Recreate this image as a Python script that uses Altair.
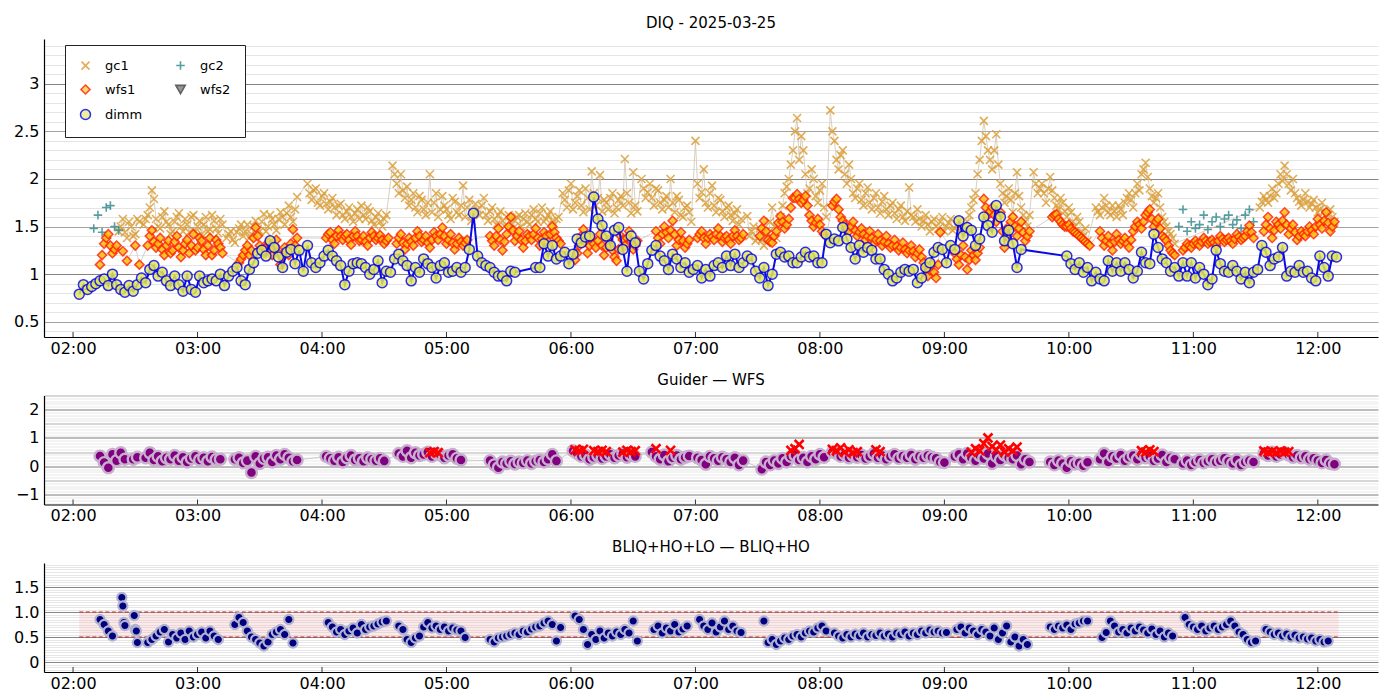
import altair as alt
import pandas as pd

# ---------------- data ----------------
TITLE_TOP = "DIQ - 2025-03-25"
TITLE_MID = "Guider — WFS"
TITLE_BOT = "BLIQ+HO+LO — BLIQ+HO"

T_START, T_END = "01:46", "12:29"
HOURS = ["02:00", "03:00", "04:00", "05:00", "06:00", "07:00",
         "08:00", "09:00", "10:00", "11:00", "12:00"]

SERIES = ["gc1", "gc2", "wfs1", "wfs2", "dimm"]

# each segment: (start time, values sampled every 2 minutes [, step in minutes])
DIMM = [
    ("02:03", [0.79, 0.89, 0.84, 0.87, 0.90, 0.93, 0.95, 0.88, 1.00, 0.89,
               0.84, 0.81, 0.88, 0.82, 0.89, 0.96, 0.91, 1.05, 1.09, 0.98,
               1.02, 0.93, 0.88, 0.98, 0.89, 0.82, 0.98, 0.84, 0.81, 0.98,
               0.91, 0.93, 0.95, 0.93, 1.00, 0.88, 0.98, 1.03, 1.07, 0.93,
               0.89, 1.05, 1.12, 1.22, 1.25, 1.19, 1.35, 1.28, 1.18, 1.07,
               1.23, 1.26, 1.11, 1.25, 1.03, 1.30, 1.12, 1.07, 1.12, 1.19,
               1.25, 1.19, 1.14, 1.09, 0.89, 1.03, 1.11, 1.12, 1.11, 1.07,
               1.00, 1.05, 1.14, 0.91, 1.03, 1.02, 1.16, 1.21, 1.14, 1.09,
               0.93, 1.07, 1.02, 1.16, 1.11, 1.07, 0.96, 1.09, 1.12, 1.02,
               1.03, 1.07, 1.02, 1.07, 1.26, 1.64, 1.19, 1.12, 1.09, 1.07,
               1.02, 0.98, 0.98, 0.93, 1.03, 1.02]),
    ("05:43", [1.07, 1.07, 1.32, 1.19, 1.30, 1.16, 1.19, 1.23, 1.11, 1.21,
               1.37, 1.33, 1.39, 1.40, 1.81, 1.58, 1.51, 1.40, 1.30, 1.46,
               1.49, 1.26, 1.03, 1.40, 1.33, 1.03, 0.95, 1.11, 1.25, 1.30,
               1.19, 1.14, 1.05, 1.21, 1.16, 1.07, 1.12, 1.02, 1.05, 1.09,
               0.96, 1.05, 0.98, 1.09, 1.12, 1.07, 1.19, 1.09, 1.21, 1.07,
               1.12, 1.19, 1.16, 1.03, 0.96, 1.07, 0.88, 1.00, 1.21, 1.23,
               1.18, 1.19, 1.12, 1.12, 1.18, 1.23, 1.18, 1.19, 1.12, 1.12,
               1.42, 1.33, 1.37, 1.35, 1.49, 1.37, 1.28, 1.16, 1.30, 1.23,
               1.28, 1.25, 1.16, 1.16, 1.05, 1.00, 0.93, 0.96, 1.02, 1.05,
               1.03, 1.05, 0.91, 0.96, 1.07, 1.12, 1.23, 1.28, 1.26, 1.12,
               1.30, 1.26, 1.56, 1.40, 1.49, 1.46, 1.30, 1.37, 1.60, 1.51,
               1.44, 1.72, 1.60, 1.35, 1.46, 1.32, 1.07, 1.26]),
    ("09:59", [1.19, 1.11, 1.05, 1.12, 1.02, 1.07, 0.93, 1.02, 0.95, 0.93,
               1.14, 1.03, 1.12, 1.03, 1.12, 1.05, 0.96, 1.03, 1.23, 1.12,
               1.11, 1.42, 1.28, 1.16, 1.12, 1.03, 1.07, 0.98, 1.12, 0.98,
               1.12, 0.96, 1.07, 1.00, 0.89, 0.95, 1.25, 1.11, 1.03, 1.02,
               1.09, 1.03, 0.95, 1.02, 0.91, 1.02, 1.05, 1.30, 1.23, 1.09,
               1.16, 1.18, 1.28, 0.98, 1.03, 1.02, 1.09, 1.02, 1.03, 0.96,
               0.93, 1.19, 1.07, 0.98, 1.19, 1.18]),
]

GC1 = [
    ("02:22", [1.45, 1.58, 1.38, 1.50, 1.42, 1.55]),
    ("02:34", [1.52, 1.62, 1.88, 1.58, 1.48, 1.66, 1.52, 1.45, 1.60, 1.50,
               1.58, 1.44, 1.62, 1.50, 1.42, 1.60, 1.47, 1.56, 1.43, 1.52]),
    ("03:14", [1.38, 1.45, 1.33, 1.48, 1.40, 1.52, 1.42, 1.56, 1.45, 1.63,
               1.50, 1.58, 1.46, 1.65, 1.52, 1.72, 1.55, 1.81]),
    ("03:53", [1.95, 1.78, 1.90, 1.72, 1.85, 1.68, 1.80, 1.62, 1.74, 1.58,
               1.70, 1.55, 1.68, 1.72, 1.58, 1.66, 1.52, 1.64, 1.50, 1.62]),
    ("04:34", [2.14, 1.95, 2.05, 1.80, 1.72, 1.85, 1.65, 1.78, 1.62, 2.05,
               1.75, 1.60, 1.82, 1.68, 1.58, 1.76, 1.62, 1.93, 1.70, 1.56,
               1.74, 1.62, 1.80, 1.56, 1.70, 1.52, 1.66, 1.50, 1.62, 1.48,
               1.60, 1.50, 1.64, 1.52, 1.68, 1.55, 1.70, 1.58, 1.66, 1.52, 1.60]),
    ("05:56", [1.85, 1.70, 1.95, 1.75, 1.88, 1.65, 1.80, 2.08, 1.72, 2.04,
               1.78, 1.68, 1.85, 1.70, 1.82, 2.21, 1.75, 2.07, 1.66]),
    ("06:34", [2.00, 1.80, 1.95, 1.72, 1.88, 1.68, 1.82, 2.00, 1.65, 1.78,
               1.60, 1.72, 1.55]),
    ("07:00", [2.40, 1.80, 2.10, 1.70, 1.93, 1.65, 1.78, 1.60, 1.72, 1.56,
               1.68, 1.58]),
    ("07:25", [1.61, 1.45, 1.35, 1.48, 1.30, 1.42, 1.70, 1.38]),
    ("07:41", [1.60, 1.85, 2.00, 2.30, 2.64, 2.45, 2.05, 1.90, 2.00, 1.75,
               1.95, 1.60]),
    ("08:05", [2.72, 2.40, 2.10, 2.30, 1.95, 2.00, 1.80, 1.95, 1.72, 1.91,
               1.68, 1.85, 1.64, 1.82, 1.62, 1.75, 1.58, 1.72, 1.56, 1.91,
               1.60, 1.68, 1.50, 1.62, 1.45, 1.58, 1.48, 1.60, 1.50, 1.58,
               1.48, 1.56, 1.50]),
    ("09:11", [1.55, 1.70, 1.85, 2.20, 2.61, 2.30, 2.10, 2.47, 1.95, 1.75,
               1.90, 1.65, 2.07, 1.70, 1.55, 1.62]),
    ("09:43", [2.07, 1.85, 1.95, 1.75, 2.02, 1.80, 1.68, 1.75, 1.60, 1.65,
               1.50, 1.55, 1.40, 1.35]),
    ("10:13", [1.70, 1.62, 1.80, 1.65, 1.72, 1.60, 1.68, 1.75, 1.85, 1.70,
               1.95, 2.05, 2.17, 1.90, 1.75, 1.85, 1.60, 1.50, 1.42, 1.32]),
    ("11:32", [1.70, 1.82, 1.75, 1.90, 1.85, 2.05, 2.14, 1.95, 2.00, 1.80,
               1.72, 1.85, 1.70, 1.78, 1.65, 1.75, 1.60, 1.68, 1.55]),
]

# in-between gc1 samples (one minute after the ones above)
GC1_B = [
    ("02:23", [1.50, 1.44, 1.55, 1.40, 1.58]),
    ("02:35", [1.58, 1.70, 1.79, 1.50, 1.60, 1.55, 1.42, 1.55, 1.64, 1.45,
               1.52, 1.60, 1.45, 1.56, 1.52, 1.45, 1.62, 1.48, 1.58]),
    ("03:15", [1.42, 1.36, 1.44, 1.52, 1.45, 1.38, 1.50, 1.47, 1.55, 1.45,
               1.62, 1.52, 1.58, 1.60, 1.64, 1.60, 1.68]),
    ("03:54", [1.85, 1.88, 1.75, 1.82, 1.74, 1.76, 1.70, 1.72, 1.62, 1.66,
               1.60, 1.64, 1.58, 1.62, 1.70, 1.56, 1.60, 1.55, 1.58]),
    ("04:35", [2.05, 1.85, 1.88, 1.92, 1.78, 1.70, 1.82, 1.68, 1.75, 1.65,
               1.85, 1.68, 1.72, 1.62, 1.80, 1.65, 1.72, 1.60, 1.78, 1.65,
               1.68, 1.72, 1.62, 1.66, 1.58, 1.62, 1.56, 1.60, 1.54, 1.56,
               1.62, 1.58, 1.55, 1.62, 1.58, 1.64, 1.55, 1.62, 1.56, 1.58]),
    ("05:57", [1.78, 1.88, 1.68, 1.82, 1.72, 1.90, 1.68, 1.85, 1.80, 1.66,
               1.75, 1.80, 1.64, 1.78, 1.72, 1.85, 1.64, 1.72]),
    ("06:35", [1.90, 1.86, 1.80, 1.90, 1.75, 1.78, 1.70, 1.75, 1.82, 1.62,
               1.70, 1.65]),
    ("07:01", [1.95, 1.86, 1.75, 1.85, 1.72, 1.80, 1.66, 1.70, 1.62, 1.64, 1.52]),
    ("07:26", [1.40, 1.50, 1.38, 1.36, 1.45, 1.55, 1.50]),
    ("07:42", [1.72, 1.92, 2.15, 2.50, 2.20, 2.30, 1.85, 2.10, 1.82, 1.88, 1.70]),
    ("08:06", [2.50, 2.20, 2.25, 2.05, 2.15, 1.85, 1.90, 1.78, 1.85, 1.75,
               1.80, 1.70, 1.76, 1.68, 1.72, 1.64, 1.68, 1.60, 1.66, 1.62,
               1.55, 1.58, 1.56, 1.52, 1.55, 1.50, 1.55, 1.45, 1.54, 1.46,
               1.52, 1.44]),
    ("09:12", [1.62, 1.78, 2.05, 2.40, 2.45, 2.20, 2.30, 2.15, 1.85, 1.82,
               1.78, 1.85, 1.82, 1.62, 1.50]),
    ("09:44", [1.95, 1.90, 1.85, 1.90, 1.88, 1.72, 1.80, 1.66, 1.70, 1.55,
               1.60, 1.45, 1.48]),
    ("10:14", [1.66, 1.70, 1.72, 1.62, 1.66, 1.72, 1.62, 1.80, 1.78, 1.85,
               1.88, 2.10, 2.02, 1.82, 1.80, 1.70, 1.55, 1.45, 1.38]),
    ("11:33", [1.76, 1.78, 1.82, 1.80, 1.95, 1.98, 2.05, 1.88, 1.85, 1.76,
               1.78, 1.76, 1.74, 1.70, 1.68, 1.66, 1.62, 1.60]),
]

GC2 = [
    ("02:10", [1.48, 1.62, 1.44, 1.70, 1.72, 1.50, 1.46]),
    ("10:53", [1.50, 1.68, 1.45, 1.55, 1.48, 1.52, 1.62, 1.47, 1.55, 1.60,
               1.50, 1.58, 1.62, 1.52, 1.57, 1.48, 1.62, 1.68, 1.55]),
]

WFS1 = [
    ("02:13", [1.10, 1.32, 1.42, 1.22, 1.30]),
    ("02:24", [1.24, 1.14]),
    ("02:30", [1.30, 1.10]),
    ("02:36", [1.30, 1.46, 1.28, 1.38, 1.20, 1.35, 1.25, 1.40, 1.18, 1.32,
               1.22, 1.42, 1.28, 1.35, 1.20, 1.38, 1.25, 1.32, 1.22]),
    ("03:20", [1.12, 1.20, 1.30, 1.25, 1.49, 1.30, 1.22, 1.33, 1.20, 1.36,
               1.10, 1.28, 1.20, 1.47, 1.38]),
    ("04:02", [1.38, 1.44, 1.32, 1.46, 1.36, 1.42, 1.31, 1.45, 1.35, 1.40,
               1.30, 1.44, 1.36, 1.41, 1.32, 1.38]),
    ("04:36", [1.32, 1.42, 1.26, 1.38, 1.30, 1.45, 1.34, 1.40, 1.28, 1.44,
               1.36, 1.49, 1.32, 1.42, 1.26, 1.38, 1.30, 1.36]),
    ("05:21", [1.40, 1.30, 1.48, 1.25, 1.42, 1.60, 1.35, 1.45, 1.28, 1.42,
               1.36, 1.48, 1.30, 1.44, 1.34, 1.50, 1.38, 1.32]),
    ("06:02", [1.15, 1.30, 1.47, 1.22, 1.38, 1.28, 1.42, 1.20, 1.36, 1.25,
               1.14, 1.40, 1.30, 1.45, 1.26, 1.35]),
    ("06:41", [1.45, 1.32, 1.50, 1.38, 1.56, 1.30, 1.44, 1.28, 1.36]),
    ("07:01", [1.38, 1.45, 1.32, 1.42, 1.36, 1.48, 1.34, 1.40, 1.32, 1.46,
               1.36, 1.42]),
    ("07:31", [1.40, 1.56, 1.36, 1.33, 1.45, 1.61, 1.48, 1.58, 1.80, 1.84,
               1.75, 1.82, 1.62, 1.50, 1.58, 1.45, 1.40]),
    ("08:06", [1.72, 1.79, 1.60, 1.52, 1.45, 1.55, 1.40, 1.48, 1.36, 1.45,
               1.32, 1.42, 1.30, 1.40, 1.28, 1.36, 1.25, 1.33, 1.22, 1.30,
               1.18, 1.26, 1.12, 0.98, 1.10, 0.96, 1.44]),
    ("09:05", [1.22, 1.10, 1.30, 1.05, 1.25, 1.15, 1.28]),
    ("09:19", [1.79, 1.62, 1.70, 1.55, 1.65, 1.28, 1.50, 1.60, 1.40, 1.55,
               1.35, 1.45]),
    ("09:52", [1.60, 1.63, 1.55, 1.50, 1.52, 1.45, 1.42, 1.38, 1.34, 1.30]),
    ("10:15", [1.45, 1.30, 1.40, 1.25, 1.42, 1.32, 1.38, 1.28, 1.45, 1.55,
               1.48, 1.62, 1.68, 1.50, 1.58, 1.40, 1.35, 1.25, 1.20]),
    ("10:55", [1.25, 1.32, 1.28, 1.35, 1.30, 1.38, 1.32, 1.36, 1.30, 1.40,
               1.34, 1.38, 1.32, 1.42, 1.36, 1.40, 1.51, 1.38]),
    ("11:34", [1.45, 1.60, 1.38, 1.55, 1.48, 1.65, 1.42, 1.52, 1.36, 1.45,
               1.40, 1.50, 1.42, 1.58, 1.48, 1.65, 1.45, 1.55]),
]

# in-between wfs1 samples (one minute after the ones above)
WFS1_B = [
    ("02:14", [1.20, 1.38, 1.30, 1.26]),
    ("02:37", [1.40, 1.34, 1.32, 1.26, 1.30, 1.22, 1.34, 1.28, 1.25, 1.36,
               1.30, 1.25, 1.38, 1.26, 1.30, 1.20, 1.36, 1.28]),
    ("03:21", [1.16, 1.25, 1.20, 1.38, 1.40, 1.26, 1.28, 1.26, 1.30, 1.22,
               1.18, 1.24, 1.32, 1.30]),
    ("04:03", [1.42, 1.36, 1.40, 1.40, 1.40, 1.36, 1.40, 1.40, 1.36, 1.34,
               1.38, 1.40, 1.38, 1.36, 1.35]),
    ("04:37", [1.38, 1.33, 1.32, 1.34, 1.38, 1.40, 1.36, 1.33, 1.36, 1.40,
               1.42, 1.40, 1.36, 1.33, 1.32, 1.34, 1.33]),
    ("05:22", [1.35, 1.40, 1.36, 1.34, 1.50, 1.46, 1.40, 1.36, 1.35, 1.40,
               1.42, 1.38, 1.37, 1.40, 1.42, 1.44, 1.35]),
    ("06:03", [1.22, 1.40, 1.34, 1.30, 1.32, 1.35, 1.30, 1.28, 1.30, 1.18,
               1.26, 1.36, 1.38, 1.35, 1.30]),
    ("06:42", [1.38, 1.42, 1.44, 1.46, 1.42, 1.36, 1.35, 1.32]),
    ("07:02", [1.42, 1.38, 1.38, 1.39, 1.42, 1.40, 1.38, 1.36, 1.40, 1.40, 1.38]),
    ("07:32", [1.48, 1.45, 1.34, 1.40, 1.54, 1.55, 1.52, 1.70, 1.80, 1.79,
               1.78, 1.72, 1.56, 1.54, 1.52, 1.42]),
    ("08:07", [1.76, 1.68, 1.56, 1.48, 1.50, 1.46, 1.44, 1.42, 1.40, 1.38,
               1.36, 1.35, 1.34, 1.32, 1.30, 1.29, 1.28, 1.26, 1.25, 1.24,
               1.22, 1.18, 1.05, 1.04, 1.02, 1.10]),
    ("09:06", [1.16, 1.20, 1.18, 1.15, 1.20, 1.22]),
    ("09:20", [1.70, 1.66, 1.62, 1.60, 1.45, 1.40, 1.55, 1.50, 1.48, 1.44, 1.40]),
    ("09:53", [1.62, 1.58, 1.52, 1.50, 1.48, 1.44, 1.40, 1.36, 1.32]),
    ("10:16", [1.38, 1.35, 1.32, 1.34, 1.36, 1.35, 1.32, 1.36, 1.50, 1.52,
               1.55, 1.65, 1.58, 1.55, 1.48, 1.38, 1.30, 1.22]),
    ("10:56", [1.28, 1.30, 1.32, 1.32, 1.34, 1.35, 1.34, 1.33, 1.35, 1.37,
               1.36, 1.35, 1.37, 1.39, 1.38, 1.45, 1.44]),
    ("11:35", [1.52, 1.48, 1.46, 1.52, 1.56, 1.52, 1.48, 1.44, 1.40, 1.42,
               1.45, 1.46, 1.50, 1.52, 1.56, 1.54, 1.50]),
]

WFS2 = []  # no wfs2 samples this night

GUIDER_WFS = [
    ("02:13", [0.36, 0.13, -0.05, 0.42, 0.20, 0.48, 0.25]),
    ("02:29", [0.25, 0.32]),
    ("02:35", [0.30, 0.48, 0.22, 0.35, 0.18, 0.30, 0.25, 0.38, 0.20, 0.32,
               0.15, 0.28, 0.35, 0.22, 0.30, 0.18, 0.33, 0.24, 0.25]),
    ("03:18", [0.25, 0.30, 0.12, 0.20, -0.22, 0.35, 0.10, 0.28, 0.32, 0.15,
               0.38, 0.25, 0.42, 0.30, 0.18, 0.22]),
    ("04:02", [0.35, 0.28, 0.20, 0.32, 0.15, 0.30, 0.38, 0.22, 0.28, 0.18,
               0.30, 0.25, 0.20, 0.28, 0.19]),
    ("04:37", [0.45, 0.35, 0.55, 0.30, 0.48, 0.38, 0.42, 0.50, 0.35, 0.45,
               0.40, 0.30, 0.38, 0.42, 0.28, 0.22]),
    ("05:21", [0.20, 0.05, -0.05, 0.15, 0.10, 0.18, 0.08, 0.15, 0.12, 0.20,
               0.10, 0.18, 0.22, 0.15, 0.25, 0.42, 0.19]),
    ("06:01", [0.55, 0.45, 0.35, 0.40, 0.25, 0.32, 0.38, 0.28, 0.35, 0.42,
               0.30, 0.38, 0.45, 0.32, 0.40, 0.35]),
    ("06:39", [0.50, 0.35, 0.25, 0.40, 0.18, 0.30, 0.38, 0.25, 0.32, 0.36]),
    ("07:01", [0.30, 0.22, 0.07, 0.35, 0.28, 0.20, 0.32, 0.25, 0.15, 0.30,
               0.05, 0.20]),
    ("07:32", [-0.10, 0.15, 0.05, 0.20, 0.10, 0.28, 0.15, 0.35, 0.40, 0.22,
               0.30, 0.15, 0.35, 0.25, 0.42, 0.32]),
    ("08:06", [0.50, 0.45, 0.35, 0.42, 0.30, 0.38, 0.32, 0.40, 0.28, 0.35,
               0.45, 0.30, 0.38, 0.25, 0.35, 0.42, 0.28, 0.36, 0.30, 0.40,
               0.25, 0.35, 0.30, 0.38, 0.32, 0.28, 0.15, 0.13]),
    ("09:05", [0.35, 0.42, 0.25, 0.45, 0.30, 0.20, 0.38, 0.28, 0.45, 0.10,
               0.35, 0.22, 0.40, 0.30, 0.25, 0.38, 0.07, 0.25, 0.15]),
    ("09:51", [0.15, 0.05, 0.20, 0.10, -0.05, 0.18, 0.08, 0.12, 0.02, 0.14]),
    ("10:15", [0.25, 0.45, 0.15, 0.35, 0.28, 0.40, 0.20, 0.32, 0.38, 0.25,
               0.42, 0.30, 0.35, 0.20, 0.28, 0.40, 0.15, 0.30, 0.25]),
    ("10:55", [0.10, 0.20, 0.05, 0.15, 0.22, 0.12, 0.18, 0.25, 0.15, 0.20,
               0.28, 0.18, 0.10, 0.22, 0.05, 0.15, 0.20, 0.15]),
    ("11:34", [0.45, 0.38, 0.50, 0.35, 0.42, 0.48, 0.40, 0.32, 0.38, 0.30,
               0.35, 0.25, 0.28, 0.20, 0.12, 0.22, 0.10, 0.07]),
]

GUIDER_FLAG = [
    ("04:52", [0.48, 0.52, 0.48]),
    ("06:02", [0.58, 0.55, 0.60]),
    ("06:11", [0.55, 0.52, 0.56, 0.52]),
    ("06:25", [0.50, 0.56, 0.52, 0.55]),
    ("06:41", [0.62]),
    ("06:48", [0.56]),
    ("07:46", [0.56, 0.62, 0.77]),
    ("08:06", [0.60, 0.55, 0.65, 0.50, 0.58, 0.48, 0.52]),
    ("08:27", [0.58, 0.52]),
    ("09:13", [0.50, 0.62, 0.55, 0.80, 1.00, 0.70, 0.58, 0.75, 0.50, 0.62,
               0.55, 0.68]),
    ("10:35", [0.55, 0.50, 0.58, 0.52]),
    ("11:34", [0.54, 0.50, 0.52, 0.48, 0.54, 0.50, 0.52]),
]

BLIQ = [
    ("02:13", [0.85, 0.75, 0.62, 0.52]),
    ("02:23:30", [1.29, 1.12, 0.79, 0.73], 0.5),
    ("02:29:30", [0.93, 0.65, 0.62, 0.39], 0.5),
    ("02:36", [0.39, 0.45, 0.52, 0.60, 0.65, 0.40, 0.55, 0.48, 0.58, 0.45,
               0.62, 0.50, 0.55, 0.60, 0.48, 0.62, 0.52, 0.45]),
    ("03:18", [0.75, 0.89, 0.79, 0.62, 0.50, 0.45, 0.38, 0.32, 0.40, 0.55,
               0.60, 0.65, 0.55, 0.85, 0.38]),
    ("04:03", [0.79, 0.70, 0.60, 0.65, 0.55, 0.62, 0.68, 0.58, 0.75, 0.65,
               0.70, 0.72, 0.76, 0.80, 0.82]),
    ("04:37", [0.72, 0.65, 0.45, 0.39, 0.48, 0.52, 0.70, 0.79, 0.68, 0.72,
               0.65, 0.70, 0.62, 0.68, 0.64, 0.62, 0.49]),
    ("05:21", [0.45, 0.40, 0.48, 0.50, 0.52, 0.55, 0.58, 0.55, 0.62, 0.60,
               0.66, 0.70, 0.72, 0.78, 0.82, 0.75, 0.42, 0.69]),
    ("06:02", [0.92, 0.85, 0.65, 0.35, 0.55, 0.45, 0.62, 0.48, 0.58, 0.52,
               0.60, 0.55, 0.65, 0.58, 0.82, 0.42]),
    ("06:40", [0.65, 0.72, 0.58, 0.68, 0.62, 0.75, 0.60, 0.66, 0.72]),
    ("07:02", [0.85, 0.72, 0.65, 0.78, 0.60, 0.70, 0.82, 0.65, 0.72, 0.62, 0.59]),
    ("07:33", [0.82, 0.39, 0.45, 0.35, 0.42, 0.48, 0.45, 0.52, 0.55, 0.50,
               0.58, 0.62, 0.60, 0.68, 0.72, 0.62]),
    ("08:07", [0.58, 0.52, 0.48, 0.55, 0.50, 0.56, 0.52, 0.58, 0.50, 0.55,
               0.53, 0.58, 0.52, 0.56, 0.50, 0.58, 0.55, 0.60, 0.52, 0.58,
               0.55, 0.62, 0.58, 0.64, 0.60, 0.62, 0.58, 0.59]),
    ("09:06", [0.65, 0.70, 0.58, 0.68, 0.62, 0.55, 0.65, 0.60, 0.52, 0.68,
               0.45, 0.58, 0.72, 0.40, 0.50, 0.32, 0.45, 0.35]),
    ("09:51", [0.70, 0.65, 0.72, 0.68, 0.74, 0.65, 0.76, 0.78, 0.82, 0.82]),
    ("10:16", [0.49, 0.59, 0.82, 0.72, 0.60, 0.65, 0.58, 0.68, 0.62, 0.70,
               0.64, 0.58, 0.66, 0.55, 0.62, 0.50, 0.58, 0.52]),
    ("10:56", [0.89, 0.75, 0.70, 0.65, 0.72, 0.62, 0.68, 0.72, 0.65, 0.70,
               0.75, 0.82, 0.72, 0.60, 0.55, 0.45, 0.39, 0.42]),
    ("11:35", [0.65, 0.60, 0.55, 0.58, 0.52, 0.56, 0.50, 0.54, 0.48, 0.50,
               0.46, 0.48, 0.42, 0.45, 0.40, 0.42]),
]

BAND_START, BAND_END = "02:03", "12:10"
BAND_LO, BAND_HI = 0.5, 1.0

# ---------------- helpers ----------------
def tmin(s):
    p = [int(v) for v in s.split(":")]
    return p[0] * 60 + p[1] + (p[2] / 60 if len(p) > 2 else 0)


def expand(segs, name):
    rows = []
    for seg in segs:
        start, vals = seg[0], seg[1]
        step = seg[2] if len(seg) > 2 else 2
        t0 = tmin(start)
        for i, v in enumerate(vals):
            rows.append({"t": t0 + i * step, "v": v, "series": name})
    return pd.DataFrame(rows, columns=["t", "v", "series"])


W = 1334
TOP_H, MID_H, BOT_H = 298, 109, 109
FONT = "DejaVu Sans"
XPATH = "M-1,-1L1,1M-1,1L1,-1"
PLUS = "M-1,0L1,0M0,-1L0,1"

x_scale = alt.Scale(domain=[tmin(T_START), tmin(T_END)], nice=False, zero=False)
x_axis = alt.Axis(values=[tmin(h) for h in HOURS],
                  labelExpr="format(floor(datum.value/60),'02d') + ':00'",
                  grid=False, ticks=False, labelPadding=3, labelFlush=False,
                  labelOverlap=False, domainColor="black", domainWidth=1.2)


def X(field="t"):
    return alt.X(f"{field}:Q", scale=x_scale, axis=x_axis, title=None)


INT = "abs(datum.value-round(datum.value))<0.001"
HALF = "abs(datum.value*2-round(datum.value*2))<0.001"


def y_axis(values, label_expr, grid_color):
    return alt.Axis(values=values, labelExpr=label_expr, gridColor=grid_color,
                    gridWidth=1, ticks=False, labelPadding=5, labelFlush=9,
                    labelOverlap=False, domainColor="black", domainWidth=1.2)


top_ax = y_axis([round(0.4 + 0.1 * i, 2) for i in range(31)],
                f"{HALF} ? format(datum.value,'~g') : ''",
                {"condition": [{"test": INT, "value": "#858585"},
                               {"test": HALF, "value": "#a3a3a3"}],
                 "value": "#e4e4e4"})
mid_ax = y_axis([round(-1.3 + 0.1 * i, 2) for i in range(39)],
                f"{INT} ? format(datum.value,'~g') : ''",
                {"condition": [{"test": INT, "value": "#7a7a7a"},
                               {"test": HALF, "value": "#b0b0b0"}],
                 "value": "#e8e8e8"})
bot_ax = y_axis([round(-0.15 + 0.05 * i, 2) for i in range(44)],
                f"{HALF} ? (abs(datum.value)<0.001 ? '0' : format(datum.value,'.1f')) : ''",
                {"condition": [{"test": HALF, "value": "#858585"}],
                 "value": "#e6e6e6"})

top_ys = alt.Scale(domain=[0.34, 3.47], nice=False, zero=False)
mid_ys = alt.Scale(domain=[-1.35, 2.5], nice=False, zero=False)
bot_ys = alt.Scale(domain=[-0.2, 1.98], nice=False, zero=False)


def YT(f="v"):
    return alt.Y(f"{f}:Q", scale=top_ys, axis=top_ax, title=None)


def YM(f="v"):
    return alt.Y(f"{f}:Q", scale=mid_ys, axis=mid_ax, title=None)


def YB(f="v"):
    return alt.Y(f"{f}:Q", scale=bot_ys, axis=bot_ax, title=None)


hours_df = pd.DataFrame({"h": [tmin(h) for h in HOURS]})


def hour_ticks(h):
    return alt.Chart(hours_df).mark_rule(color="#333333", strokeWidth=1).encode(
        x=alt.X("h:Q", scale=x_scale, axis=x_axis, title=None),
        y=alt.value(h), y2=alt.value(h - 5))


def title(text):
    return alt.TitleParams(text, fontSize=15, fontWeight="normal", font=FONT,
                           color="black", offset=8, anchor="middle")


# ---------------- top panel ----------------
gc1 = pd.concat([expand(GC1, "gc1"), expand(GC1_B, "gc1")]).sort_values("t")
gc2 = expand(GC2, "gc2")
wfs1 = pd.concat([expand(WFS1, "wfs1"), expand(WFS1_B, "wfs1")]).sort_values("t")
wfs2 = expand(WFS2, "wfs2")
dimm = expand(DIMM, "dimm")

leg = alt.Legend(title=None, orient="none", legendX=21, legendY=6, columns=2,
                 direction="horizontal", symbolSize=64,
                 padding=14, rowPadding=8, columnPadding=29, labelOffset=13,
                 labelFontSize=13, labelFont=FONT, labelColor="black",
                 strokeColor="#222222", fillColor="white", cornerRadius=0)


def sc(rng):
    return alt.Scale(domain=SERIES, range=rng)


enc = dict(
    x=X(), y=YT(),
    shape=alt.Shape("series:N", scale=sc([XPATH, PLUS, "diamond", "triangle-down", "circle"]), legend=leg),
    fill=alt.Fill("series:N", scale=sc(["transparent", "transparent", "#ffbf10", "#50505e", "#e2e65a"]), legend=leg),
    stroke=alt.Stroke("series:N", scale=sc(["#dca03a", "#3b8c90", "#ff2800", "#444444", "#0a0ae6"]), legend=leg),
    size=alt.Size("series:N", scale=sc([64, 100, 90, 70, 30]), legend=leg),
    strokeWidth=alt.StrokeWidth("series:N", scale=sc([1.6, 1.5, 1.0, 1.0, 1.7]), legend=leg),
    opacity=alt.Opacity("series:N", scale=sc([0.85, 0.85, 1.0, 1.0, 1.0]), legend=leg),
)

gc_line = alt.Chart(gc1).mark_line(color="#cfc3ad", strokeWidth=0.8).encode(x=X(), y=YT())
gc_pts = alt.Chart(pd.concat([gc1, gc2])).mark_point(filled=True).encode(**enc)
wfs_line = alt.Chart(wfs1).mark_line(color="#c4c4c4", strokeWidth=0.8).encode(x=X(), y=YT())
wfs_pts = alt.Chart(pd.concat([wfs1, wfs2])).mark_point(filled=True).encode(**enc)
dimm_line = alt.Chart(dimm).mark_line(color="#0a0ae6", strokeWidth=2).encode(x=X(), y=YT())
dimm_pts = alt.Chart(dimm).mark_point(filled=True).encode(**enc)

top = alt.layer(gc_line, gc_pts, wfs_line, wfs_pts, dimm_line, dimm_pts,
                hour_ticks(TOP_H)).properties(width=W, height=TOP_H, title=title(TITLE_TOP))

# ---------------- middle panel ----------------
gw = expand(GUIDER_WFS, "guider")
gf = expand(GUIDER_FLAG, "flag")
mid = alt.layer(
    alt.Chart(gw).mark_line(color="#c0c0c0", strokeWidth=0.8).encode(x=X(), y=YM()),
    alt.Chart(gw).mark_point(filled=True, shape="circle", fill="#800080", stroke="#c8afcd",
                             strokeWidth=2.4, size=120, opacity=1).encode(x=X(), y=YM()),
    alt.Chart(gf).mark_point(filled=False, shape=XPATH, stroke="#ff0000", strokeWidth=2.6,
                             size=80, opacity=1).encode(x=X(), y=YM()),
    hour_ticks(MID_H),
).properties(width=W, height=MID_H, title=title(TITLE_MID))

# ---------------- bottom panel ----------------
bl = expand(BLIQ, "bliq")
band = pd.DataFrame({"t0": [tmin(BAND_START)], "t1": [tmin(BAND_END)],
                     "lo": [BAND_LO], "hi": [BAND_HI]})
lims = pd.DataFrame({"t0": [tmin(BAND_START)] * 2, "t1": [tmin(BAND_END)] * 2,
                     "y": [BAND_LO, BAND_HI]})
bot = alt.layer(
    alt.Chart(band).mark_rect(color="#f6b8b8", opacity=0.3).encode(
        x=X("t0"), x2="t1:Q", y=YB("lo"), y2="hi:Q"),
    alt.Chart(lims).mark_rule(color="#c42020", strokeDash=[4, 2.5], strokeWidth=1.2).encode(
        x=X("t0"), x2="t1:Q", y=YB("y")),
    alt.Chart(bl).mark_point(filled=True, shape="circle", fill="#000080", stroke="#b0b2d0",
                             strokeWidth=2.1, size=85, opacity=1).encode(x=X(), y=YB()),
    hour_ticks(BOT_H),
).properties(width=W, height=BOT_H, title=title(TITLE_BOT))

chart = alt.vconcat(top, mid, bot, spacing=16.5).properties(
    padding={"left": 5, "top": 8, "right": 5, "bottom": 0}
).configure_view(strokeWidth=0).configure_axis(
    labelFont=FONT, labelFontSize=16, labelColor="black"
)

chart.save("out.html", embed_options={"renderer": "svg", "actions": False})
